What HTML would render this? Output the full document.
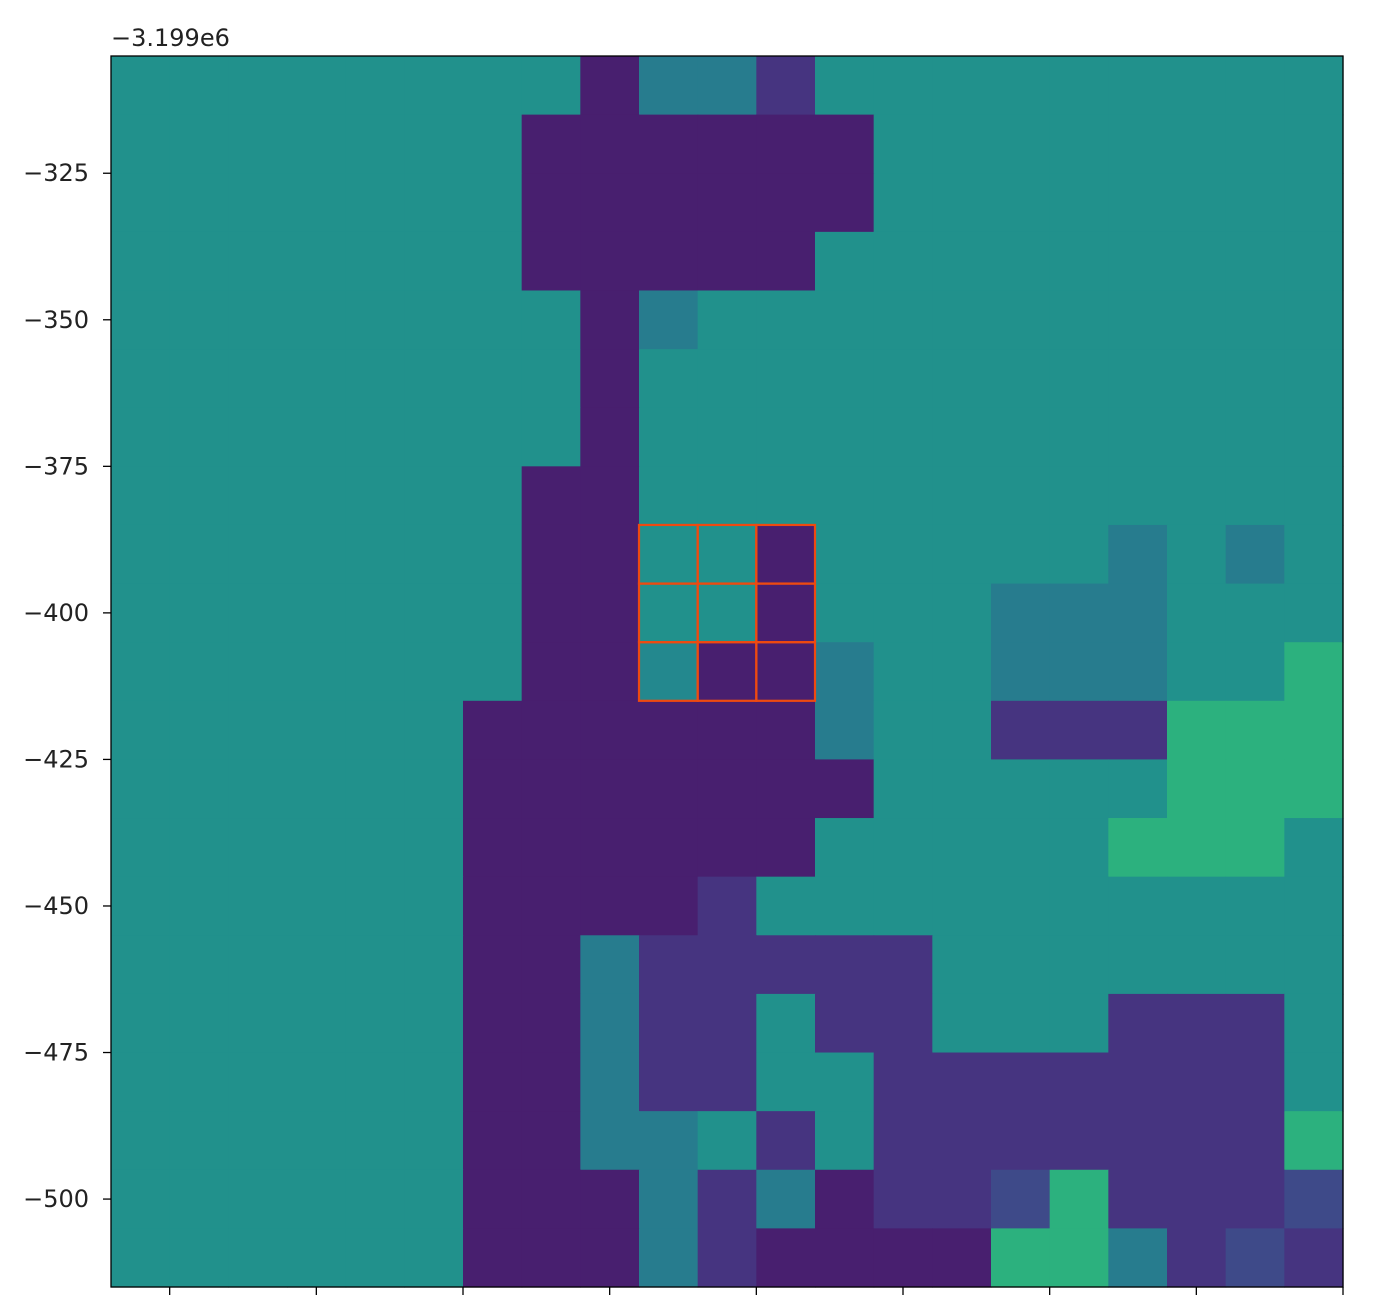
<!DOCTYPE html>
<html><head><meta charset="utf-8"><style>
body{margin:0;background:#fff;width:1374px;height:1305px;overflow:hidden}
svg{display:block}
text{font-family:"DejaVu Sans","Liberation Sans",sans-serif;font-size:24px;fill:#222}
</style></head><body>
<svg id="chart" width="1374" height="1305"></svg>
<script>
// Grid rows (top to bottom), one character per cell: T teal, P purple, M mid purple, B blue-teal, G green, S slate, b bluish teal
const rows = [
"TTTTTTTTPBBMTTTTTTTTT",
"TTTTTTTPPPPPPTTTTTTTT",
"TTTTTTTPPPPPPTTTTTTTT",
"TTTTTTTPPPPPTTTTTTTTT",
"TTTTTTTTPBTTTTTTTTTTT",
"TTTTTTTTPTTTTTTTTTTTT",
"TTTTTTTTPTTTTTTTTTTTT",
"TTTTTTTPPTTTTTTTTTTTT",
"TTTTTTTPPTTPTTTTTBTBT",
"TTTTTTTPPTTPTTTBBBTTT",
"TTTTTTTPPbPPBTTBBBTTG",
"TTTTTTPPPPPPBTTMMMGGG",
"TTTTTTPPPPPPPTTTTTGGG",
"TTTTTTPPPPPPTTTTTGGGT",
"TTTTTTPPPPMTTTTTTTTTT",
"TTTTTTPPBMMMMMTTTTTTT",
"TTTTTTPPBMMTMMTTTMMMT",
"TTTTTTPPBMMTTMMMMMMMT",
"TTTTTTPPBBTMTMMMMMMMG",
"TTTTTTPPPBMBPMMSGMMMS",
"TTTTTTPPPBMPPPPGGBMSM"
];
const palette = {T:"#21918c",P:"#481f6f",M:"#463480",B:"#277c8e",G:"#2cb17e",S:"#3e4a89",b:"#23888e"};
const yTicks = [-325,-350,-375,-400,-425,-450,-475,-500];
const xTickCount = 9;
const xMin=0, xMax=21, yTop=-305, yBottom=-515;
const L=111,R=1343,Tp=56,B=1287;
const sx=v=>L+(v-xMin)/(xMax-xMin)*(R-L);
const sy=v=>Tp+(v-yTop)/(yBottom-yTop)*(B-Tp);
const NS="http://www.w3.org/2000/svg";
const svg=document.getElementById('chart');
function mk(t,a){const e=document.createElementNS(NS,t);for(const k in a)e.setAttribute(k,a[k]);svg.appendChild(e);return e;}
rows.forEach((row,r)=>{[...row].forEach((c,ci)=>{
  const x0=sx(ci),x1=sx(ci+1),y0=sy(yTop-r*10),y1=sy(yTop-(r+1)*10);
  const e=mk('rect',{x:x0,y:y0,width:x1-x0+0.6,height:y1-y0+0.6,fill:palette[c]});
  
  
});});
for(let r=8;r<11;r++)for(let c=9;c<12;c++){
  const e=mk('rect',{x:sx(c),y:sy(yTop-r*10),width:sx(c+1)-sx(c),height:sy(yTop-(r+1)*10)-sy(yTop-r*10),fill:'none',stroke:'#ee4a10','stroke-width':2.2});
  
  
}
const frame=mk('rect',{x:L,y:Tp,width:R-L,height:B-Tp,fill:'none',stroke:'#000','stroke-width':1.3});


yTicks.forEach(v=>{
  const y=sy(v);
  const t=mk('line',{x1:L-8,x2:L,y1:y,y2:y,stroke:'#000','stroke-width':1.3});
  
  
  const lb=mk('text',{x:L-22,y:y+8,'text-anchor':'end'});
  lb.textContent='\u2212'+Math.abs(v);
  
  
});
for(let i=0;i<xTickCount;i++){
  const x=sx(1+i*2.5);
  const t=mk('line',{x1:x,x2:x,y1:B,y2:B+8,stroke:'#000','stroke-width':1.3});
  
  
}
const off=mk('text',{x:L,y:46,'font-size':'26px'});
off.textContent='\u22123.199e6';


</script>
</body></html>
